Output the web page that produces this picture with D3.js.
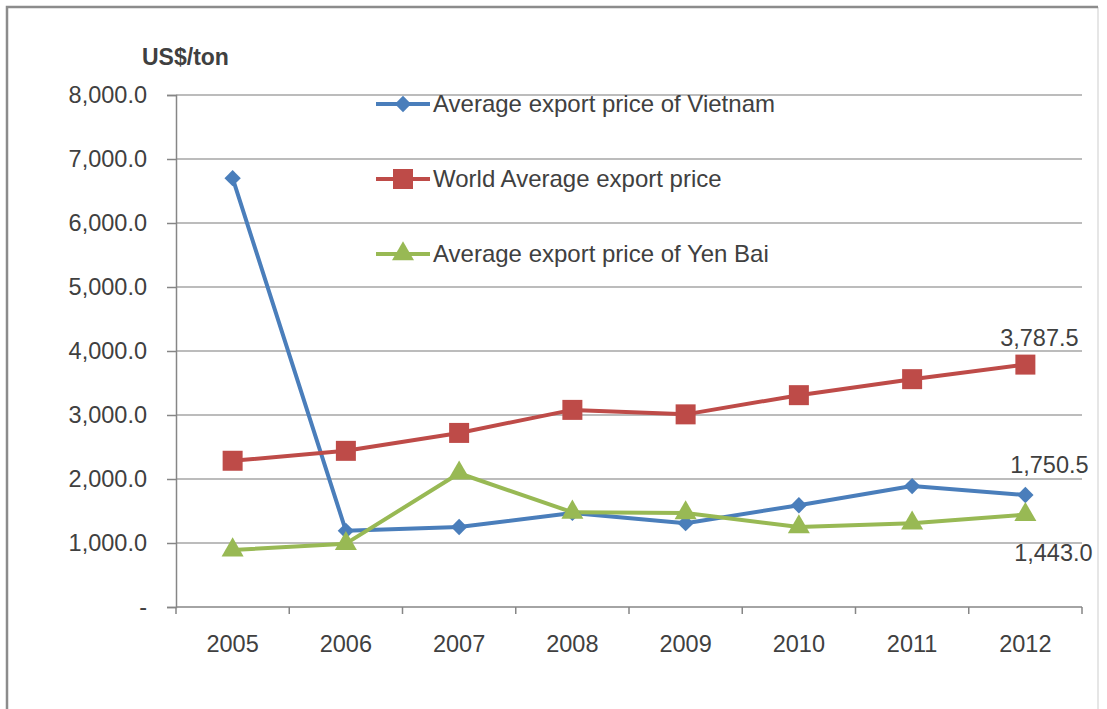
<!DOCTYPE html>
<html>
<head>
<meta charset="utf-8">
<script src="https://cdn.jsdelivr.net/npm/d3@7"></script>
<style>
  body { margin: 0; background: #fff; }
  text { font-family: "Liberation Sans", Arial, sans-serif; fill: #404040; }
</style>
</head>
<body>
<div id="chart"></div>
<script>
// =========== Data
var years = ["2005", "2006", "2007", "2008", "2009", "2010", "2011", "2012"];
var vietnamPrice = [6700, 1190, 1250, 1470, 1310, 1590, 1890, 1750.5];
var worldPrice = [2285, 2440, 2720, 3080, 3010, 3310, 3560, 3787.5];
var yenBaiPrice = [890, 990, 2090, 1480, 1470, 1250, 1310, 1443.0];
var seriesNames = ["Average export price of Vietnam", "World Average export price", "Average export price of Yen Bai"];
var yTicks = [0, 1000, 2000, 3000, 4000, 5000, 6000, 7000, 8000];

// =========== Sizes
var svgWidth = 1107;
var svgHeight = 709;
var margin = { top: 95, right: 25, bottom: 102, left: 176 };
var width = 1082 - margin.left;
var height = 607 - margin.top;

var svg = d3.select("#chart").append("svg")
    .attr("width", svgWidth)
    .attr("height", svgHeight);

// outer frame: dark top + left, faint right
svg.append("line")
    .attr("x1", 1098).attr("x2", 1098).attr("y1", 7).attr("y2", 709)
    .attr("stroke", "#e6e6e6").attr("stroke-width", 2);
svg.append("path")
    .attr("d", "M7,709 L7,7 L1098,7")
    .attr("fill", "none")
    .attr("stroke", "#8c8c8c")
    .attr("stroke-width", 2.5);

var chartGroup = svg.append("g")
    .attr("transform", `translate(${margin.left}, ${margin.top})`);

// ========== Scales
var xScale = d3.scaleBand().domain(years).range([0, width]);
var yScale = d3.scaleLinear().domain([0, 8000]).range([height, 0]);
var fmt = d3.format(",.1f");

// gridlines
chartGroup.selectAll(".grid")
    .data(yTicks.filter(d => d > 0))
    .enter().append("line")
    .attr("x1", 0).attr("x2", width)
    .attr("y1", d => yScale(d)).attr("y2", d => yScale(d))
    .attr("stroke", "#a6a6a6").attr("stroke-width", 1.5);

// ========== Axes
var leftAxis = d3.axisLeft(yScale)
    .tickValues(yTicks)
    .tickSize(9)
    .tickPadding(20)
    .tickFormat(d => d === 0 ? "-" : fmt(d));
var yAxis = chartGroup.append("g").call(leftAxis);
yAxis.select(".domain").attr("stroke", "#868686").attr("stroke-width", 1.5);
yAxis.selectAll(".tick line").attr("stroke", "#868686").attr("stroke-width", 1.5);
yAxis.selectAll("text").style("font-size", "23.5px").attr("fill", "#404040");

var xAxisG = chartGroup.append("g").attr("transform", `translate(0, ${height})`);
xAxisG.append("line")
    .attr("x1", 0).attr("x2", width).attr("y1", 0).attr("y2", 0)
    .attr("stroke", "#868686").attr("stroke-width", 1.5);
var bounds = years.map(d => xScale(d)).concat([width]);
xAxisG.selectAll(".xtick")
    .data(bounds)
    .enter().append("line")
    .attr("x1", d => d).attr("x2", d => d)
    .attr("y1", 0).attr("y2", 7)
    .attr("stroke", "#868686").attr("stroke-width", 1.5);
xAxisG.selectAll(".xlabel")
    .data(years)
    .enter().append("text")
    .attr("x", d => xScale(d) + xScale.bandwidth() / 2)
    .attr("y", 45)
    .attr("text-anchor", "middle")
    .style("font-size", "23.5px")
    .text(d => d);

// unit label
svg.append("text")
    .attr("x", 142).attr("y", 65)
    .style("font-size", "23px")
    .style("font-weight", "bold")
    .attr("fill", "#262626")
    .text("US$/ton");

// ========== Lines
var series = [
    { name: seriesNames[0], values: vietnamPrice, color: "#4a7ebb", marker: "diamond" },
    { name: seriesNames[1], values: worldPrice, color: "#be4b48", marker: "square" },
    { name: seriesNames[2], values: yenBaiPrice, color: "#98b954", marker: "triangle" }
];

var line = d3.line()
    .x((d, i) => xScale(years[i]) + xScale.bandwidth() / 2)
    .y(d => yScale(d));

function markerPath(type) {
    if (type === "diamond") return d3.symbol().type(d3.symbolDiamond2).size(170)();
    if (type === "square") return d3.symbol().type(d3.symbolSquare).size(400)();
    return d3.symbol().type(d3.symbolTriangle).size(210)();
}

series.forEach(function(s) {
    chartGroup.append("path")
        .datum(s.values)
        .attr("d", line)
        .attr("fill", "none")
        .attr("stroke", s.color)
        .attr("stroke-width", 4)
        .attr("stroke-linejoin", "round");
});
series.forEach(function(s) {
    chartGroup.selectAll(null)
        .data(s.values)
        .enter().append("path")
        .attr("d", markerPath(s.marker))
        .attr("transform", (d, i) => `translate(${xScale(years[i]) + xScale.bandwidth() / 2}, ${yScale(d)})`)
        .attr("fill", s.color);
});

// data labels on the last point
var lastLabels = [
    { value: worldPrice[7], dx: 14, dy: -19 },
    { value: vietnamPrice[7], dx: 24, dy: -22 },
    { value: yenBaiPrice[7], dx: 28, dy: 46 }
];
lastLabels.forEach(function(l) {
    chartGroup.append("text")
        .attr("x", xScale(years[7]) + xScale.bandwidth() / 2 + l.dx)
        .attr("y", yScale(l.value) + l.dy)
        .attr("text-anchor", "middle")
        .style("font-size", "23.5px")
        .text(fmt(l.value));
});

// ========== Legend
var legend = svg.append("g").attr("transform", "translate(376, 104)");
series.forEach(function(s, i) {
    var row = legend.append("g").attr("transform", `translate(0, ${i * 75})`);
    row.append("line")
        .attr("x1", 0).attr("x2", 54).attr("y1", 0).attr("y2", 0)
        .attr("stroke", s.color).attr("stroke-width", 4);
    row.append("path")
        .attr("d", markerPath(s.marker))
        .attr("transform", "translate(27, 0)")
        .attr("fill", s.color);
    row.append("text")
        .attr("x", 57).attr("y", 8)
        .style("font-size", "24px")
        .text(s.name);
});
</script>
</body>
</html>
